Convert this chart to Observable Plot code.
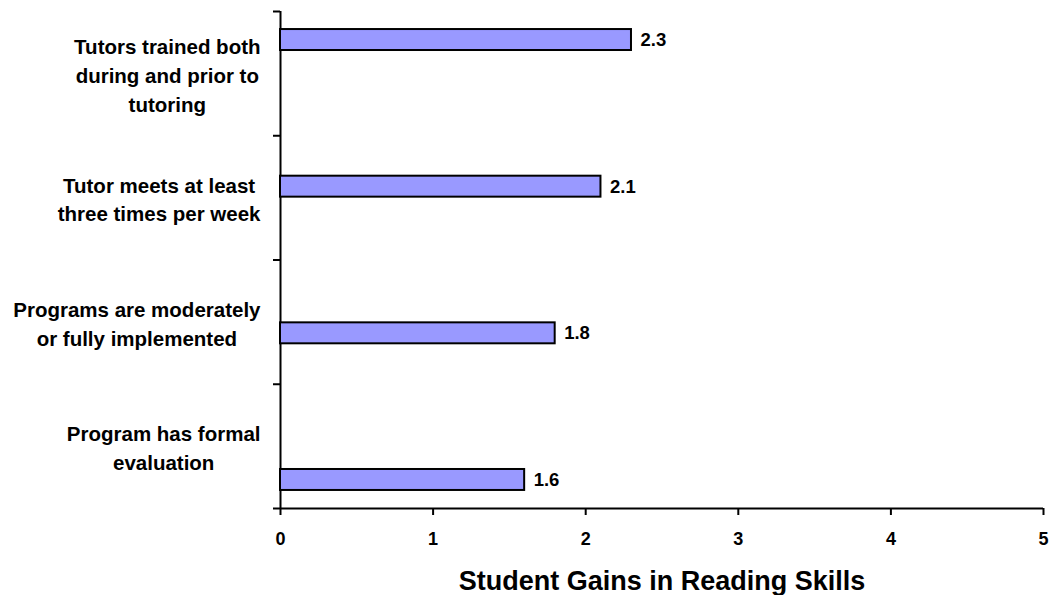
<!DOCTYPE html>
<html><head><meta charset="utf-8">
<script src="https://cdn.jsdelivr.net/npm/d3@7"></script>
<script src="https://cdn.jsdelivr.net/npm/@observablehq/plot@0.6"></script>
<style>
html,body{margin:0;padding:0;background:#fff;}
#chart{position:relative;width:1049px;height:595px;font-family:"Liberation Sans",Arial,sans-serif;}
#chart svg{position:absolute;left:0;top:0;}
</style></head><body><div id="chart"></div>
<script>
const categories = [
  "Tutors trained both during and prior to tutoring",
  "Tutor meets at least three times per week",
  "Programs are moderately or fully implemented",
  "Program has formal evaluation"
];
const categoryLabels = [
  "Tutors trained both\nduring and prior to\ntutoring",
  "Tutor meets at least\nthree times per week",
  "Programs are moderately\nor fully implemented",
  "Program has formal\nevaluation"
];
const gains = [2.3, 2.1, 1.8, 1.6];
const xTicks = [0, 1, 2, 3, 4, 5];
const xLabel = "Student Gains in Reading Skills";

const data = categories.map((c, i) => ({category: c, label: categoryLabels[i], gain: gains[i]}));

const common = {
  width: 1049, height: 595,
  marginLeft: 280, marginRight: 6, marginTop: 11, marginBottom: 87,
  style: {background: "transparent", fontFamily: '"Liberation Sans", Arial, sans-serif', color: "#000", overflow: "visible"}
};

// Layer 1: category axis (ticks at category boundaries), axis lines, labels
const framePlot = Plot.plot({
  ...common,
  x: {domain: [0, 5], axis: null},
  y: {domain: [0, categories.length], reverse: true, axis: null},
  marks: [
    Plot.axisY({ticks: d3.range(categories.length + 1), tickSize: 7, tickFormat: () => "", strokeWidth: 2}),
    Plot.ruleX([0], {strokeWidth: 2}),
    Plot.ruleY([categories.length], {strokeWidth: 2}),
    Plot.text(data, {
      y: (d, i) => i + 0.5, text: "label", frameAnchor: "left", dx: -20,
      textAnchor: "end", lineHeight: 1.4, fontSize: 20.5, fontWeight: "bold", fill: "#000"
    })
  ]
});

// Layer 2: bars, values, value axis
const barsPlot = Plot.plot({
  ...common,
  x: {domain: [0, 5], axis: null},
  y: {type: "band", domain: categories, paddingInner: 0.857, paddingOuter: 0.123, align: 0.5, round: false, axis: null},
  marks: [
    Plot.barX(data, {x: "gain", y: "category", fill: "#9999ff", stroke: "#000", strokeWidth: 2}),
    Plot.text(data, {x: "gain", y: "category", text: d => d.gain.toFixed(1), dx: 9, textAnchor: "start",
      fontSize: 18.5, fontWeight: "bold", fill: "#000"}),
    Plot.axisX({ticks: xTicks, tickSize: 7, tickPadding: 17, strokeWidth: 2, fontSize: 18, fontWeight: "bold",
      tickFormat: d => String(d), label: null}),
    Plot.text([xLabel], {frameAnchor: "bottom", dy: 62, lineAnchor: "top", fontSize: 27, fontWeight: "bold", fill: "#000"})
  ]
});

const chart = document.getElementById("chart");
chart.append(framePlot, barsPlot);

// Centre wrapped lines within their right-aligned label block (spreadsheet style)
framePlot.querySelectorAll('g[aria-label="text"] text').forEach(t => {
  const spans = t.querySelectorAll("tspan");
  let w = 0;
  if (spans.length) spans.forEach(s => { w = Math.max(w, s.getComputedTextLength()); });
  else w = t.getComputedTextLength();
  t.setAttribute("text-anchor", "middle");
  t.setAttribute("transform", (t.getAttribute("transform") || "") + ` translate(${-w / 2},0)`);
});
</script>
</body></html>
